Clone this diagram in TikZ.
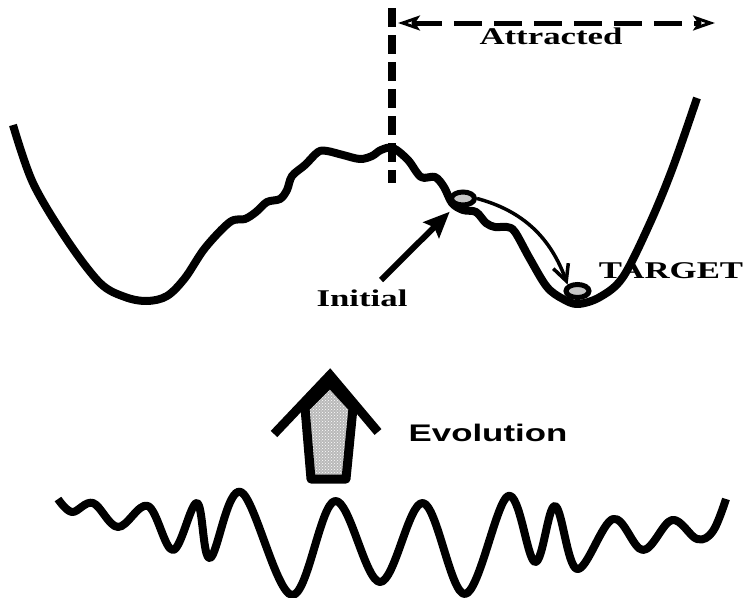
\documentclass[tikz,border=0pt]{standalone}
\usepackage{graphicx}
\usepackage{fontspec}
\setmainfont{Liberation Serif}
\setsansfont{Liberation Sans}
\usetikzlibrary{shapes.geometric, arrows.meta, patterns}
\newcommand{\stretched}[1]{\scalebox{1.45}[1]{#1}}

\begin{document}
\begin{tikzpicture}[
  x=1pt, y=-1pt,
  curve/.style={line width=8pt, line join=round, line cap=butt},
  ball/.style={ellipse, draw, line width=5pt, fill=gray!45,
               minimum width=23pt, minimum height=13pt, inner sep=0pt},
  lbl/.style={inner sep=0pt, font=\fontsize{24}{28}\selectfont\bfseries},
  slbl/.style={inner sep=0pt, font=\sffamily\fontsize{24}{28}\selectfont\bfseries},
  dashline/.style={line width=#1, dash pattern=on 19pt off 8pt},
  initarr/.style={-{Stealth[length=26pt, width=22pt, inset=4pt]}, line width=6pt},
  rollarr/.style={-{Straight Barb[length=16pt, width=16pt, line width=3.5pt]}, line width=3.5pt},
  attrarr/.style={<->, >={Stealth[open, length=22pt, width=15pt, inset=5pt, line width=3pt]},
                  line width=5pt, dash pattern=on 28pt off 12pt}
]
\useasboundingbox (0,0) rectangle (749,597);

%% Landscape after evolution
\draw[curve] plot[smooth, tension=0.55] coordinates {
  (13,125) (33,183) (67,240) (100,283) (125,297) (147,301) (167,296)
  (185,278) (205,248) (230,222) (245,219) (256,212) (267,202) (280,199)
  (287,190) (292,176) (305,165) (318,152) (327,151) (343,155) (360,159)
  (372,156) (381,150) (393,148) (408,160) (421,177) (435,177) (444,187)
  (452,203) (463,210) (476,212) (486,223) (495,227) (507,227) (515,232)
  (530,259) (547,287) (563,299) (578,304) (600,297) (623,277) (650,223)
  (673,167) (697,98)};

%% Attraction basin
\coordinate (divtop) at (392,8);
\coordinate (divbot) at (392,183);
\draw[dashline=8pt] (divtop) -- (divbot);
\coordinate (attrL) at (398,23);
\coordinate (attrR) at (715,23);
\draw[attrarr] (attrL) -- (attrR);
\node[lbl] (attracted) at (551,36) {\stretched{Attracted}};

%% Balls and labels
\node[ball] (start)  at (463,198.5) {};
\node[ball] (target) at (577.5,291)  {};
\node[lbl]  (tlabel) at (671,271) {\stretched{TARGET}};
\node[lbl]  (initial) at (362,298) {\stretched{Initial}};
\coordinate (inittail) at (381,280);
\draw[initarr, shorten >=8pt] (inittail) -- (start);
\draw[rollarr] (start.east) to[out=-15, in=110] (target.north west);

%% Evolution arrow
\draw[line width=9pt, line join=round, preaction={fill=gray!55},
      pattern=crosshatch dots, pattern color=white]
  (330,383) -- (353,408) -- (346,479) -- (311,479) -- (305,408) -- cycle;
\draw[line width=9pt, line join=miter] (274,434) -- (330,375) -- (378,432);
\node[slbl] (evolution) at (488,433) {\stretched{Evolution}};

%% Random landscape
\draw[curve] plot[smooth, tension=0.6] coordinates {
  (58,499) (72,512) (93,503) (118,527) (148,506) (173,550) (197,503)
  (210,558) (241,492) (292,595) (335,501) (380,582) (423,503) (465,594)
  (508,496) (535,562) (555,506) (577,569) (613,519) (643,550) (672,520)
  (697,539) (713,531) (726,499)};
\end{tikzpicture}
\end{document}
